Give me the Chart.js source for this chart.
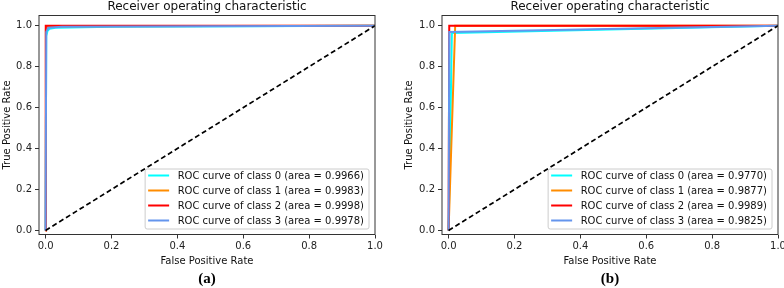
<!DOCTYPE html>
<html>
<head>
<meta charset="utf-8">
<script src="https://cdn.jsdelivr.net/npm/chart.js@4/dist/chart.umd.min.js"></script>
<style>
  html, body { margin: 0; padding: 0; background: #fff; overflow: hidden; width: 784px; height: 288px; }
  #wrapA { position: absolute; left: 0; top: 0; width: 392px; height: 288px; }
  #wrapB { position: absolute; left: 392px; top: 0; width: 400px; height: 288px; }
</style>
</head>
<body>
<div id="wrapA"><canvas id="rocA" width="392" height="288"></canvas></div>
<div id="wrapB"><canvas id="rocB" width="400" height="288"></canvas></div>
<script>
/* ROC curves, two panels (a) and (b) */

const classNames = ['class 0', 'class 1', 'class 2', 'class 3'];
const classColors = ['#00ffff', '#ff8c00', '#ff0000', '#6495ed'];

// panel (a)
const aucA = ['0.9966', '0.9983', '0.9998', '0.9978'];
const fprA0 = [0, 0.002, 0.006, 0.012, 0.03, 0.2, 1];
const tprA0 = [0, 0.95, 0.975, 0.985, 0.99, 0.995, 1];
const fprA1 = [0, 0.001, 0.005, 0.05, 1];
const tprA1 = [0, 0.985, 0.995, 0.998, 1];
const fprA2 = [0, 0, 0.001, 1];
const tprA2 = [0, 0.995, 1, 1];
const fprA3 = [0, 0.002, 0.008, 0.05, 0.5, 1];
const tprA3 = [0, 0.97, 0.99, 0.995, 0.998, 1];

// panel (b)
const aucB = ['0.9770', '0.9877', '0.9989', '0.9825'];
const fprB0 = [0, 0.01, 1];
const tprB0 = [0, 0.964, 1];
const fprB1 = [0, 0.02, 1];
const tprB1 = [0, 1, 1];
const fprB2 = [0, 0.002, 1];
const tprB2 = [0, 1, 1];
const fprB3 = [0, 0.002, 1];
const tprB3 = [0, 0.969, 1];

// chance line
const diagX = [0, 1];
const diagY = [0, 1];

const xLimits = [-0.02, 1.0];
const yLimits = [-0.02, 1.05];

Chart.defaults.font.family = 'DejaVu Sans';
Chart.defaults.color = '#222';

function pts(xs, ys) {
  return xs.map((x, i) => ({x: x, y: ys[i]}));
}

// frame around the plot area (matplotlib spines)
const frame = {
  id: 'frame',
  afterDatasetsDraw(chart) {
    const {ctx, chartArea: a} = chart;
    ctx.save();
    ctx.strokeStyle = '#333';
    ctx.lineWidth = 1;
    ctx.strokeRect(a.left, a.top, a.right - a.left, a.bottom - a.top);
    ctx.restore();
  }
};

// legend in the lower right corner, inside the axes
const insideLegend = {
  id: 'insideLegend',
  afterDraw(chart) {
    const {ctx, chartArea: a} = chart;
    const items = chart.data.datasets.filter(d => d.inLegend);
    ctx.save();
    ctx.font = '10px "DejaVu Sans"';
    const textW = Math.max(...items.map(d => ctx.measureText(d.label).width));
    const w = 32.5 + textW + 5;
    const h = 60;
    const x = a.right - 6 - w;
    const y = a.bottom - 5.5 - h;
    ctx.beginPath();
    ctx.roundRect(x, y, w, h, 2);
    ctx.fillStyle = 'rgba(255,255,255,0.8)';
    ctx.fill();
    ctx.strokeStyle = '#cccccc';
    ctx.lineWidth = 1;
    ctx.stroke();
    items.forEach((d, i) => {
      const cy = y + 6.5 + i * 15;
      ctx.beginPath();
      ctx.moveTo(x + 3, cy);
      ctx.lineTo(x + 24, cy);
      ctx.strokeStyle = d.borderColor;
      ctx.lineWidth = 2;
      ctx.stroke();
      ctx.fillStyle = '#111';
      ctx.textBaseline = 'middle';
      ctx.textAlign = 'left';
      ctx.fillText(d.label, x + 32.5, cy + 0.5);
    });
    ctx.restore();
  }
};

function makeRoc(id, caption, fprs, tprs, aucs, axisW, yTitlePad, rightPad) {
  const datasets = fprs.map((f, i) => ({
    label: 'ROC curve of ' + classNames[i] + ' (area = ' + aucs[i] + ')',
    data: pts(f, tprs[i]),
    borderColor: classColors[i],
    borderWidth: 2,
    pointRadius: 0,
    tension: 0,
    order: 5 - i,
    inLegend: true
  }));
  datasets.push({
    label: 'chance',
    data: pts(diagX, diagY),
    borderColor: '#000',
    borderWidth: 1.7,
    borderDash: [5, 3],
    pointRadius: 0,
    order: 1,
    inLegend: false
  });

  return new Chart(document.getElementById(id), {
    type: 'line',
    data: { datasets: datasets },
    options: {
      responsive: false,
      animation: false,
      layout: { padding: { left: 0, right: rightPad, top: 0, bottom: 0 } },
      plugins: {
        legend: { display: false },
        tooltip: { enabled: false },
        title: {
          display: true,
          text: 'Receiver operating characteristic',
          fullSize: false,
          color: '#111',
          font: { size: 12, weight: 'normal', lineHeight: 1.2 },
          padding: { top: 0, bottom: 1.1 }
        },
        subtitle: {
          display: true,
          text: caption,
          position: 'bottom',
          fullSize: false,
          color: '#000',
          font: { family: '"Liberation Serif"', size: 15, weight: 'bold', lineHeight: 1.2 },
          padding: 0
        }
      },
      scales: {
        x: {
          type: 'linear',
          min: xLimits[0],
          max: xLimits[1],
          afterFit(s) { s.height = 35.5; },
          border: { display: false },
          grid: { drawOnChartArea: false, drawTicks: true, tickLength: 4, tickColor: '#333' },
          ticks: {
            stepSize: 0.2,
            includeBounds: false,
            padding: 2,
            maxRotation: 0,
            font: { size: 10 },
            callback: v => v.toFixed(1)
          },
          title: {
            display: true,
            text: 'False Positive Rate',
            color: '#111',
            font: { size: 10, lineHeight: 1.2 },
            padding: { top: 0, bottom: 3 }
          }
        },
        y: {
          type: 'linear',
          min: yLimits[0],
          max: yLimits[1],
          afterFit(s) { s.width = axisW; },
          border: { display: false },
          grid: { drawOnChartArea: false, drawTicks: true, tickLength: 4, tickColor: '#333' },
          ticks: {
            stepSize: 0.2,
            includeBounds: false,
            padding: 3,
            font: { size: 10 },
            callback: v => v.toFixed(1)
          },
          title: {
            display: true,
            text: 'True Positive Rate',
            color: '#111',
            font: { size: 10, lineHeight: 1.2 },
            padding: { top: yTitlePad, bottom: 0 }
          }
        }
      }
    },
    plugins: [frame, insideLegend]
  });
}

makeRoc('rocA', '(a)',
  [fprA0, fprA1, fprA2, fprA3], [tprA0, tprA1, tprA2, tprA3], aucA, 39, 1, 17);
makeRoc('rocB', '(b)',
  [fprB0, fprB1, fprB2, fprB3], [tprB0, tprB1, tprB2, tprB3], aucB, 50, 11.5, 14);
</script>
</body>
</html>
